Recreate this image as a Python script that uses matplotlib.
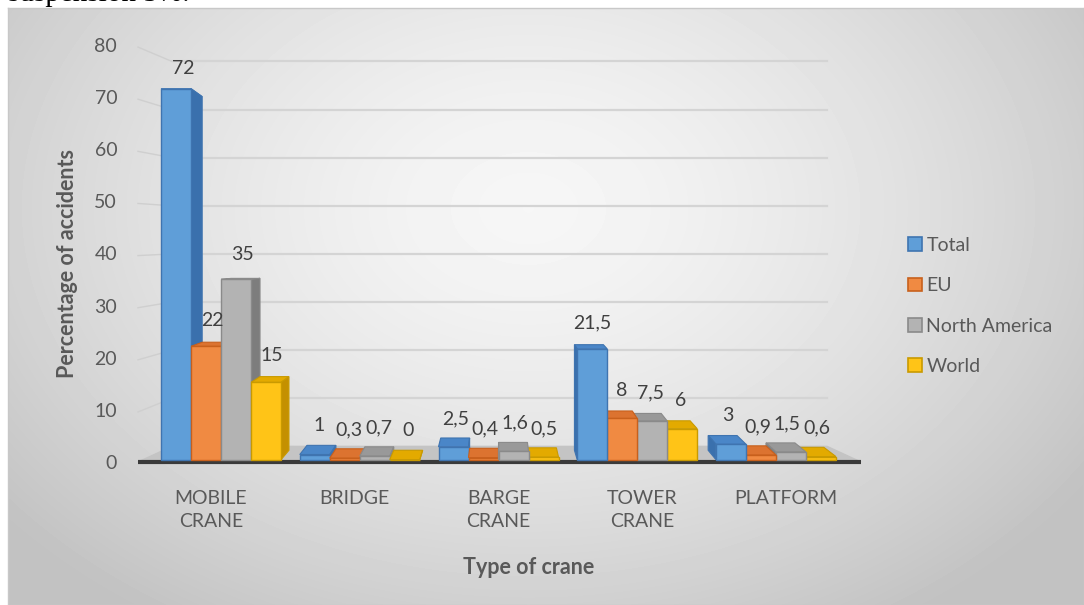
import numpy as np
import matplotlib.pyplot as plt
from matplotlib.patches import Patch

plt.rcParams['font.family'] = ['Lato', 'DejaVu Sans']

# data
categories = ["MOBILE\nCRANE", "BRIDGE", "BARGE\nCRANE", "TOWER\nCRANE", "PLATFORM"]
series_names = ["Total", "EU", "North America", "World"]
total = [72, 1, 2.5, 21.5, 3]
eu = [22, 0.3, 0.4, 8, 0.9]
north_america = [35, 0.7, 1.6, 7.5, 1.5]
world = [15, 0, 0.5, 6, 0.6]
y_ticks = [0, 10, 20, 30, 40, 50, 60, 70, 80]

series_values = [total, eu, north_america, world]

# face colours per series: front, side, top, edge
face_colors = [
    ("#5f9ed8", "#3a70ad", "#4a86c8", "#3f74b0"),
    ("#f08a42", "#c0561a", "#dc7330", "#c8601c"),
    ("#b3b3b3", "#7d7d7d", "#999999", "#8a8a8a"),
    ("#ffc417", "#c49000", "#e3aa00", "#c99a00"),
]
text_col = "#595959"

W, H = 1084, 605
fig = plt.figure(figsize=(W / 100, H / 100), dpi=100)
fig.patch.set_facecolor("white")

# chart area background (soft radial grey gradient)
bg = fig.add_axes([8 / W, 0, 1 - 8 / W, 1 - 8 / H])
yy, xx = np.mgrid[0:597, 0:1076]
r = np.sqrt(((xx - 520) / 620.0) ** 2 + ((yy - 200) / 450.0) ** 2)
shade = np.clip(0.965 - 0.18 * r ** 1.5, 0.76, 1.0)
bg.imshow(shade, cmap="gray", vmin=0, vmax=1, aspect="auto", interpolation="bilinear")
bg.set_xticks([])
bg.set_yticks([])
for s in bg.spines.values():
    s.set_color("#c8c8c8")
    s.set_linewidth(1)

# text cut off above the chart (only its lower part shows in the original)
fig.text(8 / W, 1 - 1 / H, "suspension 5%.", family="Liberation Serif", fontsize=21,
         color="black", va="baseline", ha="left")

# main axes: x in category units, y in percent (front plane)
x0, x1 = (138 - 211) / 143.75, (861 - 211) / 143.75
ax = fig.add_axes([138 / W, 1 - 462 / H, (861 - 138) / W, (462 - 45) / H])
ax.set_xlim(x0, x1)
ax.set_ylim(0, 80)
ax.patch.set_alpha(0)
for s in ax.spines.values():
    s.set_visible(False)

XV = (500 - 211) / 143.75  # vanishing point of the perspective


def back_value(v):
    return 3.0 + 0.923 * v


def wall_point(x, v, z, k=0.094):
    return x + (XV - x) * k * z, v + (back_value(v) - v) * z


# floor
bl = wall_point(x0, 0, 1)
br = wall_point(x1, 0, 1)
ax.fill([x0, x1, br[0], bl[0]], [0, 0, br[1], bl[1]], color="#c4c4c4", zorder=1, clip_on=False)
ax.plot([x0, x1], [0, 0], color="#3a3a3a", lw=3, zorder=1.5, clip_on=False, solid_capstyle="butt")

# back wall gridlines and side wall lines
for v in y_ticks[1:]:
    a = wall_point(x0, v, 1)
    b = wall_point(x1, v, 1)
    ax.plot([a[0], b[0]], [a[1], b[1]], color="#d4d4d4", lw=1.6, zorder=1, clip_on=False)
    ax.plot([x0, a[0]], [v - 0.4, a[1]], color="#cfcfcf", lw=1.0, zorder=1, clip_on=False)

# 3D bars
bar_w = 30 / 143.75
Z0, Z1, KB = 0.15, 0.75, 0.06


def bar_point(x, v, z):
    return x + (XV - x) * KB * (z - Z0), v + (back_value(v) - v) * z


bars = []
for i in range(len(categories)):
    gc = 2 + (i - 2) * 0.965
    for j, vals in enumerate(series_values):
        left = gc - 2 * bar_w + j * bar_w
        bars.append((left, vals[i], j))
bars.sort(key=lambda b: -abs(b[0] + bar_w / 2 - XV))

zo = 3
for left, v, j in bars:
    right = left + bar_w
    front_c, side_c, top_c, edge_c = face_colors[j]
    # top face
    pts = [bar_point(left, v, Z0), bar_point(right, v, Z0), bar_point(right, v, Z1), bar_point(left, v, Z1)]
    ax.fill([p[0] for p in pts], [p[1] for p in pts], facecolor=top_c, edgecolor=edge_c, lw=0.8, zorder=zo, clip_on=False)
    # side face
    xs = right if left + bar_w / 2 < XV else left
    pts = [bar_point(xs, 0, Z0), bar_point(xs, 0, Z1), bar_point(xs, v, Z1), bar_point(xs, v, Z0)]
    ax.fill([p[0] for p in pts], [p[1] for p in pts], facecolor=side_c, edgecolor=edge_c, lw=0.8, zorder=zo + 0.1, clip_on=False)
    # front face
    pts = [bar_point(left, 0, Z0), bar_point(right, 0, Z0), bar_point(right, v, Z0), bar_point(left, v, Z0)]
    ax.fill([p[0] for p in pts], [p[1] for p in pts], facecolor=front_c, edgecolor=edge_c, lw=1.0, zorder=zo + 0.2, clip_on=False)
    zo += 1

# value labels
for i in range(len(categories)):
    gc = 2 + (i - 2) * 0.965
    for j, vals in enumerate(series_values):
        cx = gc - 2 * bar_w + (j + 0.5) * bar_w
        lx, ly = bar_point(cx, vals[i], 0.45)
        ax.text(lx + 0.01, ly + 4.6, f"{vals[i]:g}".replace(".", ","), ha="center", va="center",
                fontsize=14, color="#404040", zorder=100)

# axes ticks
ax.set_yticks(y_ticks)
ax.set_yticklabels([str(t) for t in y_ticks])
ax.set_xticks(range(len(categories)))
ax.set_xticklabels(categories, linespacing=1.45)
ax.tick_params(axis="y", length=0, pad=15, labelsize=14, labelcolor=text_col)
ax.tick_params(axis="x", length=0, pad=20, labelsize=14, labelcolor=text_col)

fig.text(529 / W, 1 - 567 / H, "Type of crane", ha="center", va="center",
         fontsize=15.5, fontweight="bold", color=text_col)
fig.text(68 / W, 1 - 263 / H, "Percentage of accidents", ha="center", va="center",
         rotation=90, fontsize=15.5, fontweight="bold", color=text_col)

# legend
handles = [Patch(facecolor=c[0], edgecolor=c[3], lw=1.2) for c in face_colors]
leg = fig.legend(handles, series_names, loc="upper left", bbox_to_anchor=(908 / W, 1 - 237 / H),
                 frameon=False, fontsize=14, handlelength=0.7, handleheight=0.7,
                 handletextpad=0.25, labelspacing=1.2, borderpad=0, borderaxespad=0)
for t in leg.get_texts():
    t.set_color(text_col)

fig.savefig("out.png", dpi=100)
